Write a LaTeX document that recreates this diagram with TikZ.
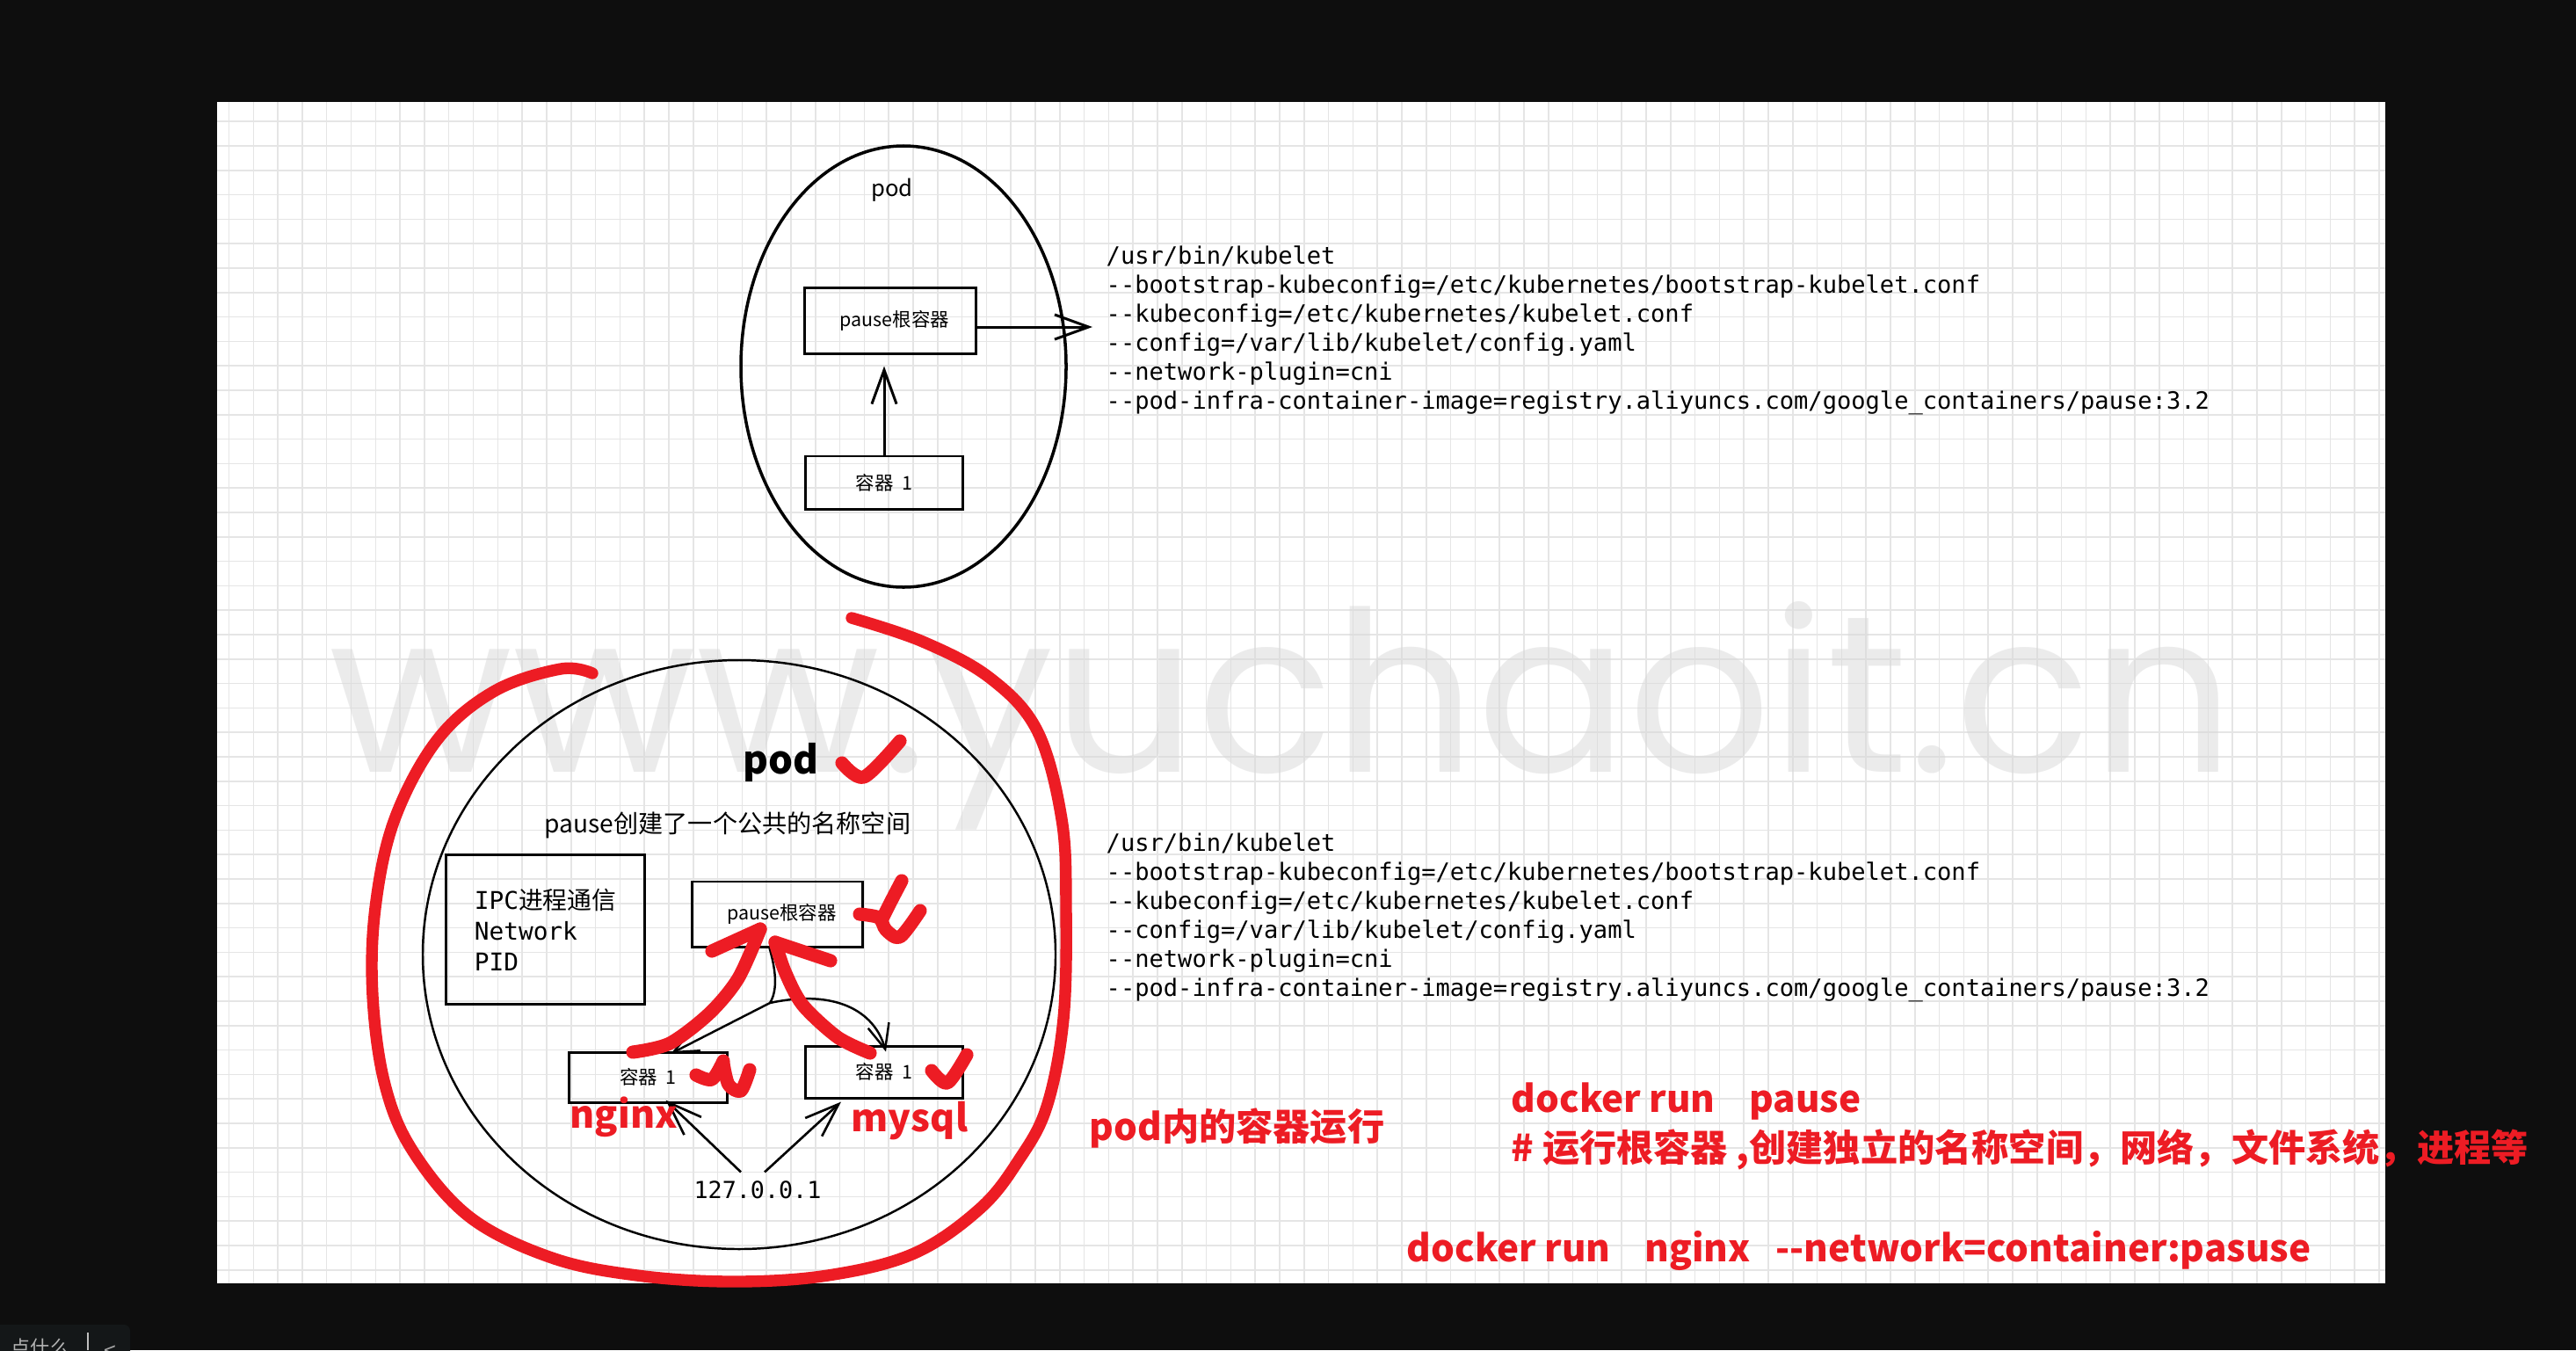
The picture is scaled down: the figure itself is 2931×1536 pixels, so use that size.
\documentclass[tikz,border=0pt]{standalone}
\usepackage{fontspec}
\setmainfont{Noto Sans CJK SC}
\setmonofont{DejaVu Sans Mono}
\newfontfamily\wmfont{Poppins}
\usetikzlibrary{arrows.meta,calc}

\definecolor{penred}{RGB}{237,28,36}
\definecolor{bgdark}{RGB}{14,14,14}
\definecolor{gridgray}{RGB}{229,229,229}
\definecolor{uibox}{RGB}{20,23,24}

\tikzset{
  box/.style={draw, line width=0.85pt, inner sep=0pt, font=\fontsize{6.1}{7}\selectfont},
  arr/.style={line width=0.85pt, -{Straight Barb[length=11pt,width=8pt]}},
  thinarr/.style={line width=0.7pt, -{Straight Barb[length=8pt,width=7pt]}},
  redpen/.style={penred, line width=4.3pt, line cap=round, line join=round},
  redtext/.style={anchor=base west, inner sep=0pt, text=penred, font=\bfseries\fontsize{12}{14}\selectfont},
  cmdline/.style={anchor=base west, inner sep=0pt, font=\ttfamily\fontsize{7.7}{9.5}\selectfont},
  gridline/.style={gridgray, line width=0.45pt},
}

% kubelet arguments, #1 = first baseline
\newcommand{\kubeletcmd}[1]{%
  \foreach \cmdtext [count=\i from 0] in {/usr/bin/kubelet,
      -{}-bootstrap-kubeconfig=/etc/kubernetes/bootstrap-kubelet.conf,
      -{}-kubeconfig=/etc/kubernetes/kubelet.conf,
      -{}-config=/var/lib/kubelet/config.yaml,
      -{}-network-plugin=cni,
      -{}-pod-infra-container-image=registry.aliyuncs.com/google\_containers/pause:3.2}
    \node[cmdline] at (1258,#1+33*\i) {\cmdtext};}

\begin{document}
\begin{tikzpicture}[x=0.01cm, y=-0.01cm]
  \useasboundingbox (0,0) rectangle (2931,1536);
  \fill[bgdark] (0,0) rectangle (2931,1536);
  \fill[white] (247,116) rectangle (2714,1460);
  % grid
  \foreach \k in {0,...,88} \draw[gridline] ({260.5+27.8*\k},116) -- ({260.5+27.8*\k},1460);
  \foreach \k in {0,...,47} \draw[gridline] (247,{138.2+27.8*\k}) -- (2714,{138.2+27.8*\k});
  % watermark
  \node[anchor=base west, inner sep=0pt, text=gray!30, text opacity=0.5,
        font=\wmfont\fontsize{72.5}{80}\selectfont] (wm) at (374,878) {www.yuchaoit.cn};

  % pod, top
  \draw[line width=1pt] (1028,417) ellipse (185 and 251);
  \node[anchor=base, inner sep=0pt, font=\fontsize{7.3}{8}\selectfont] (podtop) at (1015,223) {pod};
  \node[box, minimum width=1.94cm, minimum height=0.74cm] (pausetop) at (1013,365) {\ \ pause根容器};
  \node[box, minimum width=1.79cm, minimum height=0.60cm] (ctop) at (1006,549) {容器\ \ 1};
  \coordinate (kubelettip) at (1243,372);
  \draw[arr, shorten >=3.7pt] (ctop.north) -- (ctop.north |- pausetop.south);
  \draw[arr] (pausetop.east |- kubelettip) -- (kubelettip);
  \kubeletcmd{300}

  % pod, bottom
  \draw[line width=0.7pt] (841,1086) ellipse (360 and 335);
  \node[anchor=base west, inner sep=0pt, font=\bfseries\fontsize{12.5}{15}\selectfont] (podbig) at (845,880) {pod};
  \node[anchor=base, inner sep=0pt, font=\fontsize{8}{10}\selectfont] (nsnote) at (828,947) {pause创建了一个公共的名称空间};
  \node[box, minimum width=2.25cm, minimum height=1.69cm, align=left,
        font=\fontsize{7.9}{9.96}\selectfont] (ipc) at (620.5,1057.5)
        {{\ttfamily IPC}进程通信\\{\ttfamily Network}\\{\ttfamily PID}};
  \node[box, minimum width=1.93cm, minimum height=0.74cm] (pausebot) at (884.5,1040) {\ \ pause根容器};
  \node[box, minimum width=1.79cm, minimum height=0.57cm] (cleft) at (737.5,1225.5) {容器\ \ 1};
  \node[box, minimum width=1.78cm, minimum height=0.59cm] (cright) at (1006,1219.5) {容器\ \ 1};
  \node[anchor=base, inner sep=0pt, font=\ttfamily\fontsize{7.6}{9}\selectfont] (ip) at (862,1363) {127.0.0.1};
  % pause -> containers
  \draw[line width=0.7pt] ($(pausebot.south)+(-9,0)$) .. controls (884,1108) and (884,1128) .. (876,1141) coordinate (fork);
  \draw[thinarr] (fork) -- ($(cleft.north)+(26,3)$);
  \draw[thinarr] (fork) .. controls (950,1125) and (995,1150) .. ($(cright.north)+(2,8)$);
  % 127.0.0.1 -> containers
  \draw[arr, line width=0.75pt] ($(ip.north)+(-19,-9)$) -- ($(cleft.south)+(20,-4)$);
  \draw[arr, line width=0.75pt] ($(ip.north)+(8,-9)$) -- ($(cright.south)+(-49,3)$);
  \kubeletcmd{968}

  % red marks
  \draw[redpen, line width=3.8pt] plot[smooth, tension=0.6] coordinates {(674,766) (638,761) (563,786) (498,841)
    (449,932) (427,1033) (424,1133) (438,1234) (470,1310) (535,1385) (628,1431) (725,1451) (834,1458)
    (942,1451) (1040,1426) (1115,1375) (1159,1320) (1191,1259) (1210,1159) (1213,1033) (1208,932)
    (1180,831) (1126,771) (1050,730) (969,703)};
  \draw[redpen] plot[smooth] coordinates {(958,868) (983,884) (1024,843)};
  \draw[redpen] plot[smooth] coordinates {(1026,1002) (1014,1025) (1004,1045)};
  \draw[redpen] plot[smooth] coordinates {(978,1040) (1000,1044) (1008,1058) (1024,1066) (1047,1036)};
  \draw[redpen] plot[smooth] coordinates {(792,1223) (810,1228) (823,1207)};
  \draw[redpen] plot[smooth] coordinates {(823,1210) (829,1234) (843,1241) (853,1217)};
  \draw[redpen] plot[smooth] coordinates {(1060,1218) (1078,1232) (1100,1200)};
  \draw[redpen] plot[smooth] coordinates {(720,1197) (762,1187) (807,1153) (840,1113) (865,1057)};
  \draw[redpen] (810,1082) -- (865,1057);
  \draw[redpen] plot[smooth] coordinates {(990,1198) (953,1180) (913,1143) (893,1105) (882,1072)};
  \draw[redpen] (882,1072) -- (945,1093);

  % red notes
  \node[redtext, font=\bfseries\fontsize{12.2}{15}\selectfont] (nginx) at (648,1283) {nginx};
  \node[redtext, font=\bfseries\fontsize{12.2}{15}\selectfont] (mysql) at (968,1287) {mysql};
  \node[redtext] (podrun) at (1239,1297) {pod内的容器运行};
  \node[redtext] (runpause) at (1719,1265) {docker run~~~~pause};
  \node[redtext] (pausenote) at (1719,1321) {\# 运行根容器 ,创建独立的名称空间，网络，文件系统，进程等};
  \node[redtext] (runnginx) at (1600,1435) {docker run~~~~nginx~~~-{}-network=container:pasuse};

  % window bar
  \fill[uibox, rounded corners=2pt] (-10,1507) rectangle (148,1560);
  \node[anchor=base west, inner sep=0pt, text=gray!60, font=\fontsize{6.3}{7}\selectfont] (hint) at (12,1541) {点什么};
  \draw[gray!50, line width=0.5pt] (100,1516) -- (100,1536);
  \node[anchor=base, inner sep=0pt, text=gray!70, font=\fontsize{7}{8}\selectfont] (back) at (125,1545) {<};
\end{tikzpicture}
\end{document}
